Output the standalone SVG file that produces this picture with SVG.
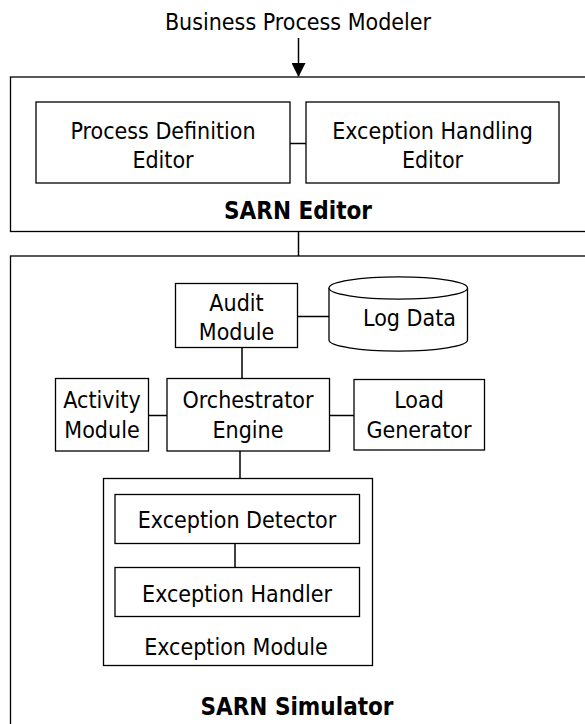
<svg xmlns="http://www.w3.org/2000/svg" width="585" height="724" viewBox="0 0 585 724">
<defs>
<style>
.box{fill:#fff;stroke:#000;stroke-width:1.3}
.cont{fill:none;stroke:#000;stroke-width:1.3}
.ln{fill:none;stroke:#000;stroke-width:1.5}
text{font-family:"DejaVu Sans Condensed","DejaVu Sans","Liberation Sans",sans-serif;font-size:23px;fill:#000;text-anchor:middle}
.b{font-weight:bold;font-size:24px}
</style>
<marker id="arr" viewBox="0 0 14 14" refX="13" refY="7" markerWidth="14" markerHeight="14" markerUnits="userSpaceOnUse" orient="auto">
<path d="M0,0 L14,7 L0,14 Z" fill="#000"/>
</marker>
</defs>
<rect width="585" height="724" fill="#fff"/>
<g id="bpm"><text x="298" y="29.5">Business Process Modeler</text></g>
<g id="sarn-editor">
<rect class="cont" x="10.5" y="77" width="590" height="154.5"/>
<text class="b" x="298" y="218.5">SARN Editor</text>
</g>
<g id="pde">
<rect class="box" x="36" y="102" width="254" height="81"/>
<text x="163" y="138.5">Process Definition</text>
<text x="163" y="168">Editor</text>
</g>
<g id="ehe">
<rect class="box" x="306" y="102" width="253" height="81"/>
<text x="432.5" y="138.5">Exception Handling</text>
<text x="432.5" y="168">Editor</text>
</g>
<g id="sarn-simulator">
<rect class="cont" x="10.5" y="256" width="600" height="500"/>
<text class="b" x="297" y="715">SARN Simulator</text>
</g>
<g id="audit">
<rect class="box" x="175.5" y="283.5" width="122" height="64"/>
<text x="236.5" y="311">Audit</text>
<text x="236.5" y="340">Module</text>
</g>
<g id="logdata">
<path class="box" d="M329,288 A69,11 0 0 1 467.5,288 L467.5,340 A69,11 0 0 1 329,340 Z"/>
<path class="box" d="M329,288 A69,11 0 0 0 467.5,288"/>
<text x="409.5" y="326">Log Data</text>
</g>
<g id="activity">
<rect class="box" x="55.5" y="378.5" width="93" height="72.5"/>
<text x="102" y="408.3">Activity</text>
<text x="102" y="438">Module</text>
</g>
<g id="orchestrator">
<rect class="box" x="167" y="378.5" width="162.5" height="72.5"/>
<text x="248" y="408.3">Orchestrator</text>
<text x="248" y="438">Engine</text>
</g>
<g id="load">
<rect class="box" x="354" y="379.5" width="130.5" height="70.5"/>
<text x="419" y="408.3">Load</text>
<text x="419" y="438">Generator</text>
</g>
<g id="exmodule">
<rect class="box" x="103.5" y="478.5" width="269" height="187"/>
<text x="236" y="655">Exception Module</text>
</g>
<g id="exdetector">
<rect class="box" x="115" y="494.5" width="244.5" height="49"/>
<text x="237" y="528.3">Exception Detector</text>
</g>
<g id="exhandler">
<rect class="box" x="115" y="567.5" width="244.5" height="49"/>
<text x="237" y="601.7">Exception Handler</text>
</g>
<g id="connectors">
<line class="ln" x1="298.5" y1="38" x2="298.5" y2="76" marker-end="url(#arr)"/>
<line class="ln" x1="290" y1="143.5" x2="306" y2="143.5"/>
<line class="ln" x1="298.5" y1="231.5" x2="298.5" y2="256"/>
<line class="ln" x1="297.5" y1="316.5" x2="329" y2="316.5"/>
<line class="ln" x1="242" y1="347.5" x2="242" y2="378.5"/>
<line class="ln" x1="148.5" y1="415.5" x2="167" y2="415.5"/>
<line class="ln" x1="329.5" y1="415.5" x2="354" y2="415.5"/>
<line class="ln" x1="240" y1="451" x2="240" y2="478.5"/>
<line class="ln" x1="235" y1="543.5" x2="235" y2="567.5"/>
</g>
</svg>
